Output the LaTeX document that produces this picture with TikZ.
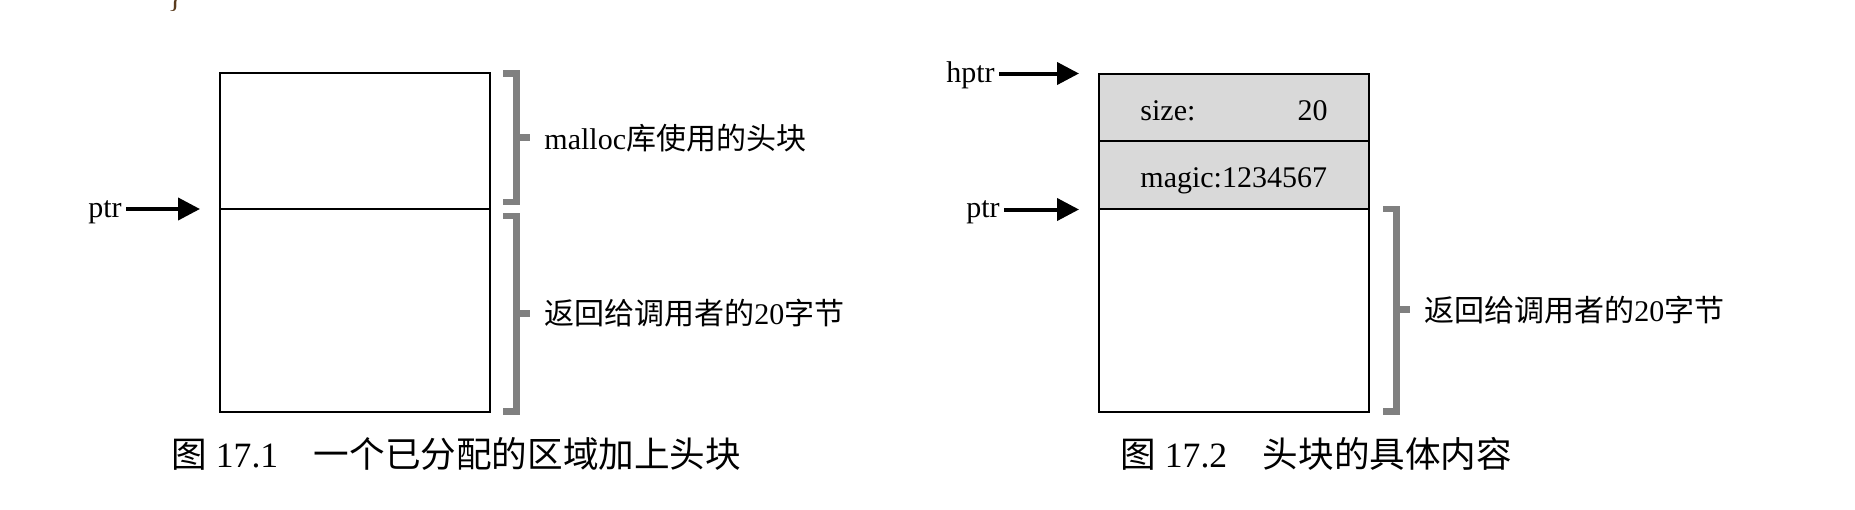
\documentclass[tikz,border=0pt]{standalone}
\usepackage{fontspec}
\setmainfont{Liberation Serif}
\newfontfamily\cjk{Noto Sans CJK SC}
\usetikzlibrary{arrows.meta}
\definecolor{hdrgray}{RGB}{217,217,217}
\definecolor{brkgray}{RGB}{128,128,128}
\definecolor{codebrown}{RGB}{90,60,30}

\tikzset{
  cell/.style={draw, line width=1pt, minimum width=135pt, inner sep=0pt, outer sep=0pt},
  hdrcell/.style={cell, fill=hdrgray},
  lbl/.style={font=\fontsize{15pt}{18pt}\selectfont, inner sep=0pt},
  ptrlbl/.style={lbl, inner xsep=2pt, anchor=base east},
  caption/.style={font=\fontsize{17.8pt}{21pt}\selectfont, inner sep=0pt, anchor=base west},
  ptrarrow/.style={-{Triangle[length=11pt,width=11pt]}, line width=2pt},
  brace/.style={draw=brkgray, line width=3.3pt},
}

\begin{document}
\begin{tikzpicture}[x=0.5pt, y=-0.5pt]
  \useasboundingbox (0,0) rectangle (1855,509);
  \fill[white] (0,0) rectangle (1855,509);
  % tail of the page above
  \node[lbl, text=codebrown, anchor=south] (code brace) at (175,12) {\}};

  % figure 17.1
  \node[cell, minimum height=67.85pt]  (hdr l)  at (355,141.2) {};
  \node[cell, minimum height=101.35pt] (body l) at (355,310.35) {};
  \node[ptrlbl] (ptr l) at (126,217) {ptr};
  \coordinate (ptr l tip) at (200,209);
  \draw[ptrarrow] (ptr l.east |- ptr l tip) -- (ptr l tip);
  \draw[brace] (503,73.3) -- (516.5,73.3) -- (516.5,202) -- (503,202);
  \draw[brace] (516.5,137.7) -- (530,137.7);
  \draw[brace] (503,216) -- (516.5,216) -- (516.5,411.7) -- (503,411.7);
  \draw[brace] (516.5,313.3) -- (530,313.3);
  \node[lbl, anchor=west] (hdr l note)  at (544,138) {malloc{\cjk 库使用的头块}};
  \node[lbl, anchor=west] (body l note) at (544,313) {{\cjk 返回给调用者的}20{\cjk 字节}};
  \node[caption] (cap l) at (171,467) {{\cjk 图} 17.1\hspace{1em}{\cjk 一个已分配的区域加上头块}};

  % figure 17.2
  \node[hdrcell, minimum height=33.65pt] (size cell)  at (1234.3,107.65) {};
  \node[hdrcell, minimum height=33.85pt] (magic cell) at (1234.3,175.15) {};
  \node[cell, minimum height=101.35pt]   (body r)     at (1234.3,310.35) {};
  \node[lbl, anchor=base west] (size)     at (1140,120) {size:};
  \node[lbl, anchor=base east] (size val) at (1328,120) {20};
  \node[lbl, anchor=base west] (magic)    at (1140,187) {magic:1234567};
  \node[ptrlbl] (hptr) at (999,82) {hptr};
  \coordinate (hptr tip) at (1079,73.5);
  \draw[ptrarrow] (hptr.east |- hptr tip) -- (hptr tip);
  \node[ptrlbl] (ptr r) at (1004,217) {ptr};
  \coordinate (ptr r tip) at (1079,209.5);
  \draw[ptrarrow] (ptr r.east |- ptr r tip) -- (ptr r tip);
  \draw[brace] (1383,209) -- (1396.5,209) -- (1396.5,411.7) -- (1383,411.7);
  \draw[brace] (1396.5,309.3) -- (1410,309.3);
  \node[lbl, anchor=west] (body r note) at (1424,310) {{\cjk 返回给调用者的}20{\cjk 字节}};
  \node[caption] (cap r) at (1120,467) {{\cjk 图} 17.2\hspace{1em}{\cjk 头块的具体内容}};
\end{tikzpicture}
\end{document}
